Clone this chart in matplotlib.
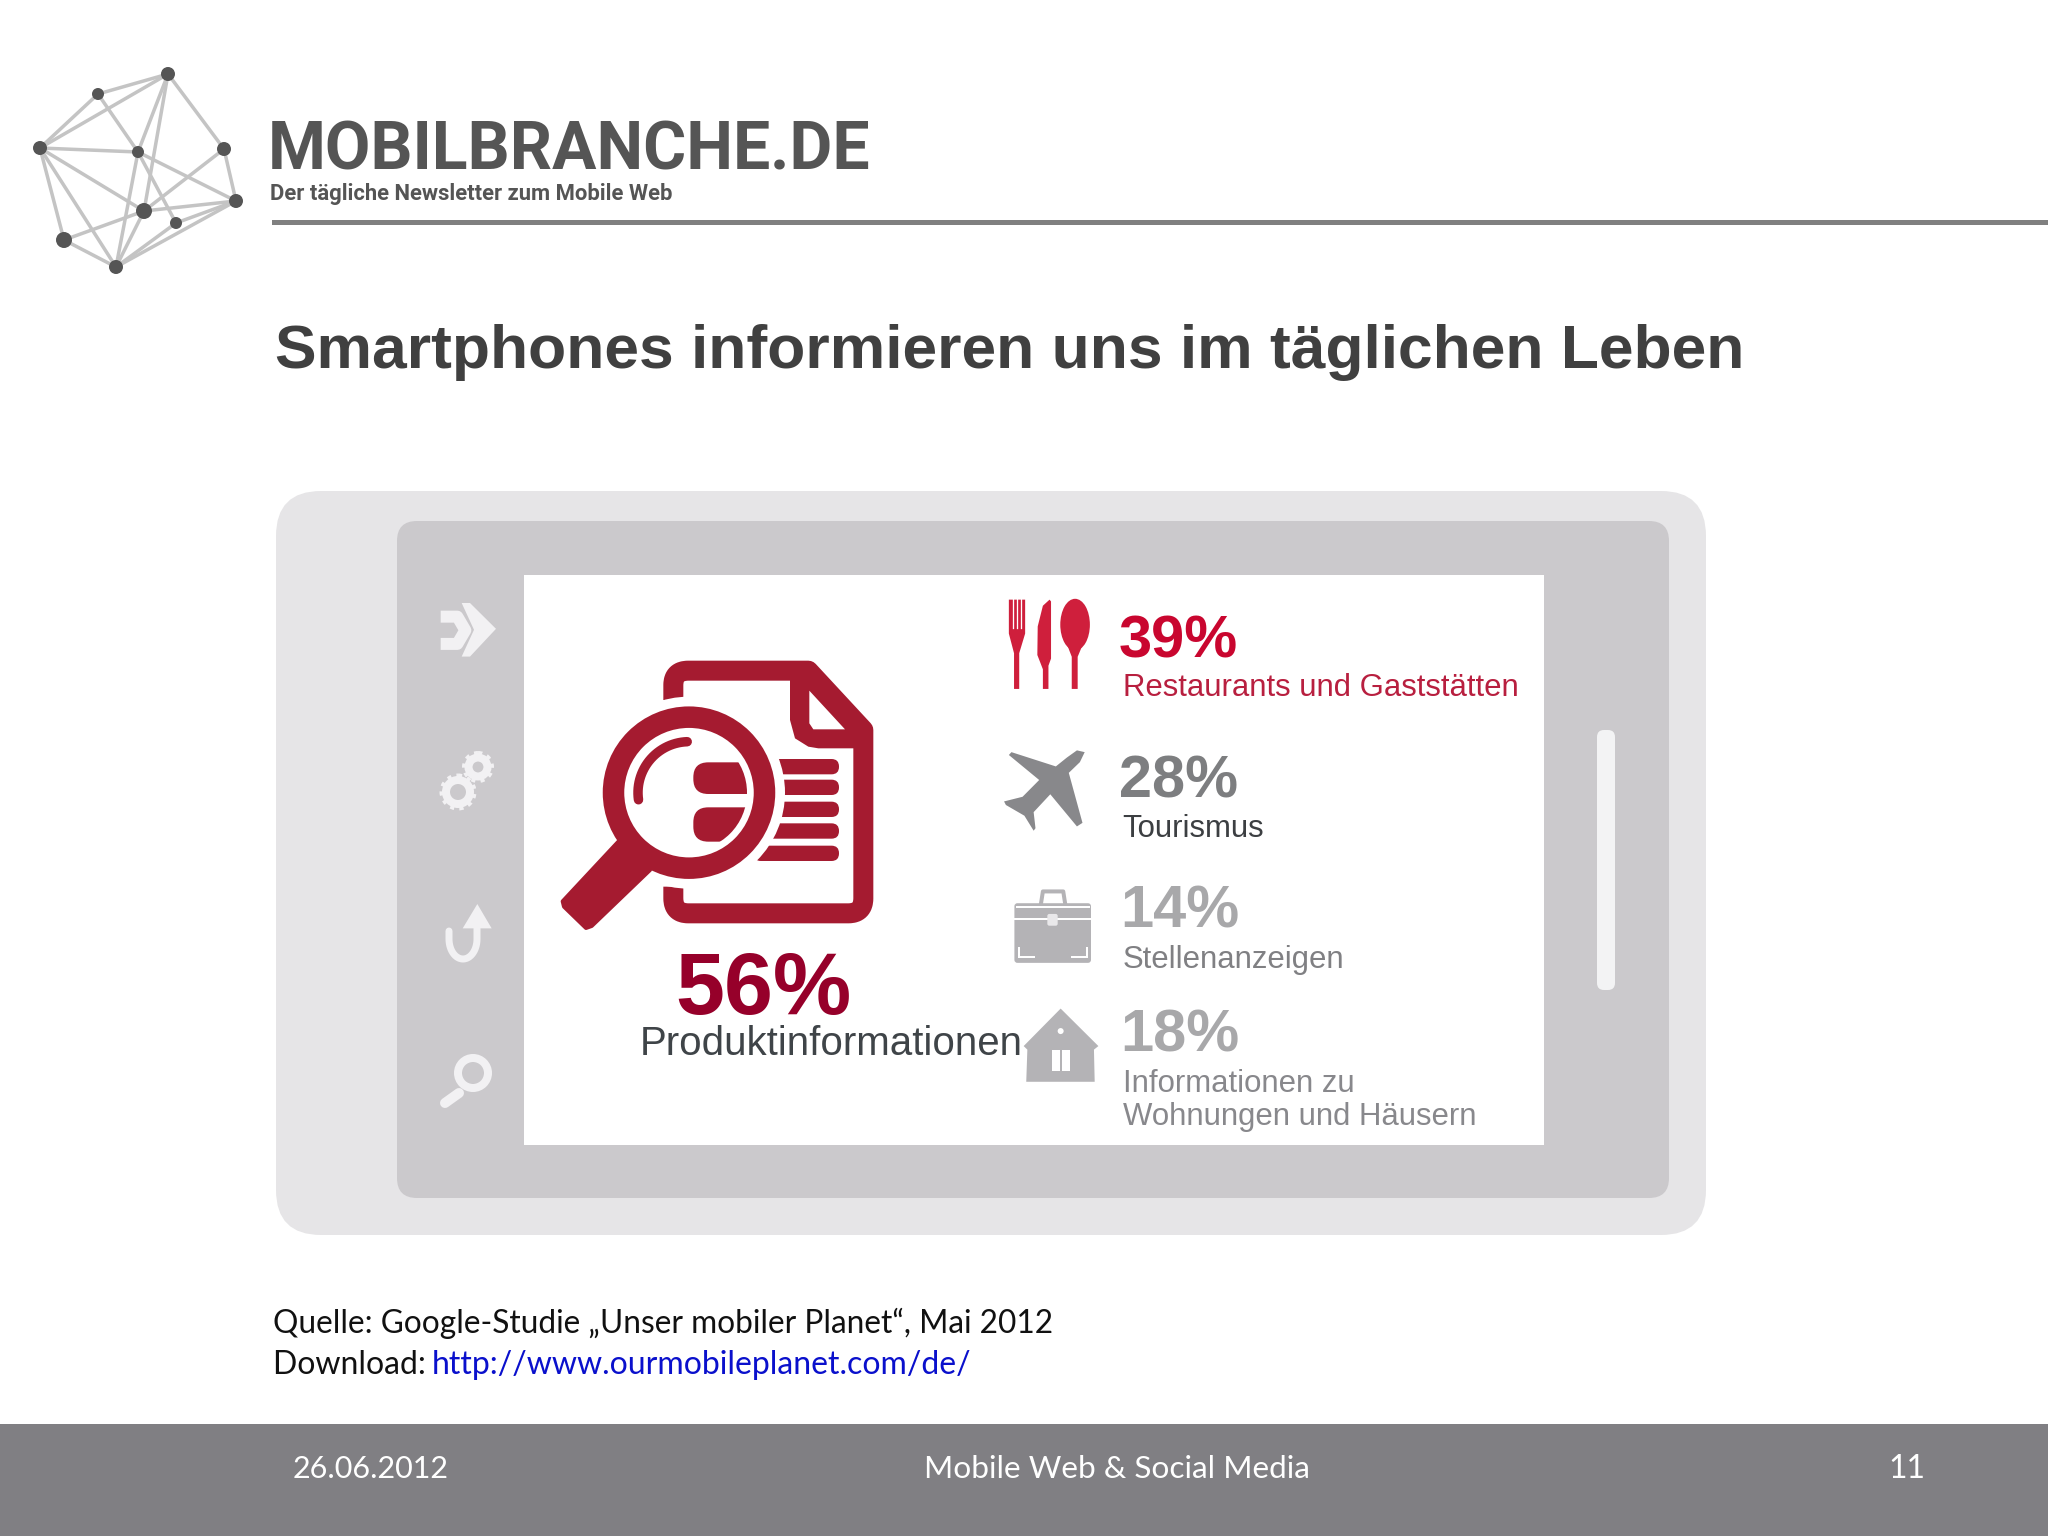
import numpy as np
import matplotlib
matplotlib.use("Agg")
import matplotlib.pyplot as plt
from matplotlib.patches import Circle, Ellipse, FancyBboxPatch, Polygon, PathPatch, Rectangle
from matplotlib.path import Path

# --- DATA ---
percent_labels = ["39%", "28%", "14%", "18%"]
category_labels = ["Restaurants und Gaststätten", "Tourismus", "Stellenanzeigen",
                   "Informationen zu\nWohnungen und Häusern"]
main_percent = "56%"
main_label = "Produktinformationen"
title = "Smartphones informieren uns im täglichen Leben"
source_lines = ["Quelle: Google-Studie „Unser mobiler Planet“, Mai 2012", "Download: "]
source_link = "http://www.ourmobileplanet.com/de/"
footer_date = "26.06.2012"
footer_title = "Mobile Web & Social Media"
footer_page = "11"

logo_nodes = [(168, 74), (98, 94), (40, 148), (138, 152), (224, 149),
              (236, 201), (144, 211), (176, 223), (64, 240), (116, 267)]
logo_sizes = [8, 7, 8, 7, 8, 8, 9, 7, 9, 8]
logo_edges = [(0, 1), (0, 2), (0, 3), (0, 6), (0, 4), (1, 2), (1, 3), (2, 3), (2, 6), (2, 8), (2, 9),
              (3, 9), (3, 5), (3, 7), (4, 5), (4, 6), (5, 6), (5, 7), (5, 9), (6, 8), (6, 9), (7, 9), (8, 9)]

# --- COLOURS ---
DARK_RED = "#a51b30"
BRIGHT_RED = "#cf1f3c"
ICON_GREY = "#b4b3b6"
PLANE_GREY = "#88888b"
SIDE_ICON = "#f2f1f3"
SANS = "Liberation Sans"


def px(n):
    # pixels to points at dpi 100
    return n * 0.72


def lens(x, y):
    # coordinates
    return 520 + np.asarray(x) / 3, 570 + np.asarray(y) / 3


def icon(x, y):
    # coordinates
    return 980 + np.asarray(x) / 2.703, 580 + np.asarray(y) / 2.80


def side(x, y):
    # coordinates
    return 270 + np.asarray(x) / 3, 490 + np.asarray(y) / 2.053


def poly(ax, pts, conv, color, z=3, **kw):
    xs, ys = conv([p[0] for p in pts], [p[1] for p in pts])
    patch = Polygon(np.column_stack([xs, ys]), closed=True, facecolor=color, edgecolor="none", zorder=z, **kw)
    ax.add_patch(patch)
    return patch


def box(ax, x0, y0, x1, y1, r, color, z):
    ax.add_patch(FancyBboxPatch((x0 + r, y0 + r), x1 - x0 - 2 * r, y1 - y0 - 2 * r,
                                boxstyle=f"round,pad={r},rounding_size={r}",
                                facecolor=color, edgecolor="none", zorder=z))


fig = plt.figure(figsize=(20.48, 15.36), dpi=100, facecolor="white")
ax = fig.add_axes([0, 0, 1, 1])
ax.set_xlim(0, 2048)
ax.set_ylim(1536, 0)
ax.axis("off")

# --- HEADER ---
for a, b in logo_edges:
    ax.plot([logo_nodes[a][0], logo_nodes[b][0]], [logo_nodes[a][1], logo_nodes[b][1]],
            color="#c4c4c4", lw=px(3.5), zorder=1)
for (x, y), s in zip(logo_nodes, logo_sizes):
    ax.add_patch(Circle((x, y), s - 1, facecolor="#555555", edgecolor="none", zorder=2))
ax.text(268, 170, "MOBILBRANCHE.DE", family="Roboto", weight="bold", fontsize=px(66), color="#555555", va="baseline")
ax.text(270, 200, "Der tägliche Newsletter zum Mobile Web", family="Roboto", weight="bold", fontsize=px(22),
        color="#555555", va="baseline")
ax.add_patch(Rectangle((272, 219.5), 1776, 5, facecolor="#808080", edgecolor="none"))

ax.text(275, 368, title, family=SANS, weight="bold", fontsize=px(62.4), color="#404040", va="baseline")

# --- PHONE ---
box(ax, 276, 491, 1706, 1235, 45, "#e6e5e7", 0.1)
box(ax, 397, 521, 1669, 1198, 20, "#cbc9cc", 0.2)
ax.add_patch(Rectangle((524, 575), 1020, 570, facecolor="white", edgecolor="none", zorder=0.3))
box(ax, 1597, 730, 1615, 990, 7, "#f3f3f4", 0.4)

# side icons
xs, ys = side([512, 562, 586, 562, 512], [260, 260, 288, 316, 316])
ax.plot(xs, ys, color=SIDE_ICON, lw=px(12), solid_joinstyle="round", solid_capstyle="butt", zorder=3)
poly(ax, [(575, 232), (600, 232), (678, 285), (600, 342), (575, 342), (612, 287)], side, SIDE_ICON)

for center, r in [((458, 792), 12), ((478, 767), 9.5)]:
    ax.add_patch(Circle(center, r, facecolor="none", edgecolor=SIDE_ICON, lw=px(8), zorder=3))
    ax.add_patch(Circle(center, r + 4, facecolor="none", edgecolor=SIDE_ICON, lw=px(5),
                        linestyle=(0, (0.8, 1.0)), zorder=3))

t = np.linspace(0, np.pi, 30)
u_x = np.concatenate([[449], 463 - 14 * np.cos(t), [477]])
u_y = np.concatenate([[931], 939 + 20 * np.sin(t), [925]])
ax.plot(u_x, u_y, color=SIDE_ICON, lw=px(7), solid_capstyle="round", zorder=3)
poly(ax, [(622, 850), (665, 900), (578, 900)], side, SIDE_ICON)

ax.add_patch(Circle((473, 1073), 15, facecolor="none", edgecolor=SIDE_ICON, lw=px(8), zorder=3))
ax.plot([445, 459], [1103, 1093], color=SIDE_ICON, lw=px(10), solid_capstyle="round", zorder=3)

# --- DOCUMENT + MAGNIFIER ---
doc_v = [(460, 390), (460, 345), (460, 302), (505, 302), (865, 302), (1030, 480), (1030, 985), (1030, 1030),
         (985, 1030), (505, 1030), (460, 1030), (460, 985), (460, 950)]
doc_c = [Path.MOVETO, Path.LINETO, Path.CURVE3, Path.CURVE3, Path.LINETO, Path.LINETO, Path.LINETO, Path.CURVE3,
         Path.CURVE3, Path.LINETO, Path.CURVE3, Path.CURVE3, Path.LINETO]
dx, dy = lens([p[0] for p in doc_v], [p[1] for p in doc_v])
ax.add_patch(PathPatch(Path(np.column_stack([dx, dy]), doc_c), facecolor="none", edgecolor=DARK_RED, lw=px(20),
                       joinstyle="round", capstyle="butt", zorder=2))
poly(ax, [(810, 310), (810, 450), (825, 505), (865, 530), (895, 535), (1040, 535), (1040, 470), (880, 290)],
     lens, DARK_RED, z=2)
poly(ax, [(868, 362), (868, 460), (880, 478), (975, 478)], lens, "white", z=2.1)

for bar_y in [590, 652, 718, 783, 850]:
    x0, y0 = lens(700, bar_y - 23)
    x1, y1 = lens(957, bar_y + 23)
    box(ax, float(x0), float(y0), float(x1), float(y1), 7.5, DARK_RED, 2)

lens_c = tuple(float(v) for v in lens(507, 668))
ax.add_patch(Circle(lens_c, 96, facecolor="white", edgecolor="none", zorder=2.5))
handle = poly(ax, [(295, 815), (390, 900), (215, 1068), (198, 1074), (132, 1010), (128, 994)], lens, DARK_RED, z=3)
handle.set_edgecolor(DARK_RED)
handle.set_linewidth(px(4))
handle.set_joinstyle("round")
ax.add_patch(Circle(lens_c, 75.5, facecolor="none", edgecolor=DARK_RED, lw=px(21.5), zorder=3))

clip = Circle(lens_c, 58, transform=ax.transData)
for y0, y1 in [(577, 672), (712, 815)]:
    x0, py0 = lens(520, y0)
    x1, py1 = lens(760, y1)
    pill = FancyBboxPatch((float(x0) + 15, float(py0) + 15), float(x1 - x0) - 30, float(py1 - py0) - 30,
                          boxstyle="round,pad=15,rounding_size=15", facecolor=DARK_RED, edgecolor="none", zorder=3)
    ax.add_patch(pill)
    pill.set_clip_path(clip)
t = np.radians(np.linspace(172, 268, 30))
ax.plot(lens_c[0] + 51 * np.cos(t), lens_c[1] + 51 * np.sin(t), color=DARK_RED, lw=px(9.5),
        solid_capstyle="round", zorder=3)

ax.text(763, 1014, main_percent, family=SANS, weight="bold", fontsize=px(88), color="#96002a", ha="center",
        va="baseline")
ax.text(640, 1055, main_label, family=SANS, fontsize=px(40.2), color="#3f4448", va="baseline")

# --- RIGHT COLUMN ---
percent_pos = [(1119, 658), (1119, 798), (1120, 928), (1120, 1051)]
percent_cols = ["#c9062f", "#7d7e80", "#a8a8aa", "#a8a8aa"]
label_pos = [(1123, 696), (1122, 837), (1123, 968), (1123, 1092)]
label_cols = ["#b81f3f", "#3c3f42", "#808083", "#88888c"]
for i in range(4):
    ax.text(*percent_pos[i], percent_labels[i], family=SANS, weight="bold", fontsize=px(59.5), color=percent_cols[i],
            va="baseline")
    for j, line in enumerate(category_labels[i].split("\n")):
        ax.text(label_pos[i][0], label_pos[i][1] + j * 33, line, family=SANS, fontsize=px(31.2), color=label_cols[i],
                va="baseline")

# fork, knife, spoon
poly(ax, [(78, 55), (78, 150), (92, 205), (92, 305), (106, 305), (106, 205), (122, 150), (122, 55)],
     icon, BRIGHT_RED)
for tine_x in [89, 100, 111]:
    xs, ys = icon([tine_x, tine_x], [50, 135])
    ax.plot(xs, ys, color="white", lw=px(1.3), zorder=3.1)
poly(ax, [(188, 55), (170, 72), (156, 130), (155, 210), (170, 250), (170, 305), (185, 305), (185, 240), (192, 220),
          (192, 60)], icon, BRIGHT_RED)
ec, ey = icon(257, 125)
ax.add_patch(Ellipse((float(ec), float(ey)), 80 / 2.703, 144 / 2.786, facecolor=BRIGHT_RED, edgecolor="none", zorder=3))
poly(ax, [(235, 180), (248, 215), (248, 305), (264, 305), (264, 215), (278, 180)], icon, BRIGHT_RED)

# plane
poly(ax, [(283, 482), (262, 477), (235, 497), (205, 522), (85, 482), (78, 490), (160, 560), (115, 607), (65, 620),
          (70, 630), (120, 660), (145, 702), (150, 695), (145, 650), (190, 600), (262, 690), (277, 680), (240, 540),
          (270, 510)], icon, PLANE_GREY)

# briefcase
x0, y0 = icon(93, 905)
x1, y1 = icon(300, 1072)
box(ax, float(x0), float(y0), float(x1), float(y1), 3, ICON_GREY, 3)
xs, ys = icon([165, 170, 225, 230], [905, 872, 872, 905])
ax.plot(xs, ys, color=ICON_GREY, lw=px(4), zorder=3, solid_joinstyle="round")
for seg in [([100, 295], [916, 916]), ([93, 300], [948, 948]), ([105, 145], [1055, 1055]), ([248, 290], [1055, 1055]),
            ([105, 105], [1030, 1055]), ([290, 290], [1030, 1055])]:
    xs, ys = icon(*seg)
    ax.plot(xs, ys, color="white", lw=px(2), zorder=3.1)
x0, y0 = icon(182, 935)
x1, y1 = icon(210, 968)
box(ax, float(x0), float(y0), float(x1), float(y1), 2, "#e9e8ea", 3.2)

# house
poly(ax, [(218, 1200), (118, 1305), (128, 1315), (125, 1405), (310, 1405), (308, 1315), (320, 1305)], icon, ICON_GREY)
x0, y0 = icon(218, 1263)
ax.add_patch(Circle((float(x0), float(y0)), 3, facecolor="white", edgecolor="none", zorder=3.1))
for door_x in [(194, 215), (222, 243)]:
    x0, y0 = icon(door_x[0], 1315)
    x1, y1 = icon(door_x[1], 1375)
    ax.add_patch(Rectangle((float(x0), float(y0)), float(x1 - x0), float(y1 - y0), facecolor="white", edgecolor="none",
                           zorder=3.1))

# --- SOURCE ---
ax.text(273, 1333, source_lines[0], family="Lato", fontsize=px(31.7), color="#111111", va="baseline")
ax.text(273, 1374, source_lines[1], family="Lato", fontsize=px(32), color="#111111", va="baseline")
ax.text(432, 1374, source_link, family="Lato", fontsize=px(32), color="#0a10cc", va="baseline")

# --- FOOTER ---
ax.add_patch(Rectangle((0, 1424), 2048, 112, facecolor="#807f83", edgecolor="none"))
ax.text(293, 1478, footer_date, family="Lato", fontsize=px(30.5), color="white", va="baseline")
ax.text(1117, 1478, footer_title, family="Lato", fontsize=px(31.5), color="white", ha="center", va="baseline")
ax.text(1907, 1478, footer_page, family="Lato", fontsize=px(32), color="white", ha="center", va="baseline")

fig.savefig("out.png", dpi=100, facecolor="white")
